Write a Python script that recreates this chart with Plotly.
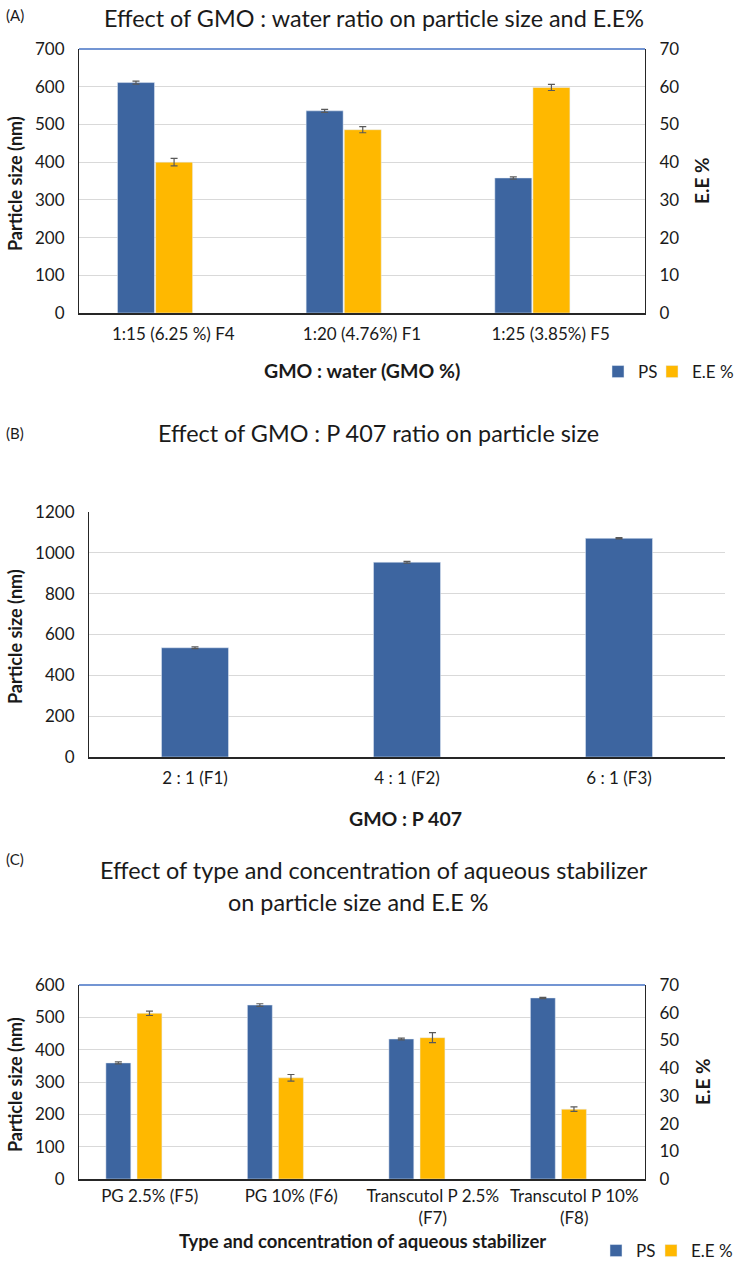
import plotly.graph_objects as go

# ---------------- data ----------------
cat_a = ["1:15 (6.25 %) F4", "1:20 (4.76%) F1", "1:25 (3.85%) F5"]
ps_a = [611, 536, 358]
ps_a_err = [4, 4, 3]
ee_a = [40.0, 48.6, 59.8]
ee_a_err = [1.0, 0.8, 0.8]

cat_b = ["2 : 1 (F1)", "4 : 1 (F2)", "6 : 1 (F3)"]
ps_b = [535, 954, 1071]
ps_b_err = [4, 4, 3]

cat_c = ["PG 2.5% (F5)", "PG 10% (F6)", "Transcutol P 2.5%<br>(F7)", "Transcutol P 10%<br>(F8)"]
ps_c = [359, 538, 433, 560]
ps_c_err = [3, 4, 3, 2]
ee_c = [59.8, 36.5, 51.0, 25.2]
ee_c_err = [0.8, 1.2, 1.8, 0.8]

ticks_a_left = [0, 100, 200, 300, 400, 500, 600, 700]
ticks_a_right = [0, 10, 20, 30, 40, 50, 60, 70]
ticks_b = [0, 200, 400, 600, 800, 1000, 1200]
ticks_c_left = [0, 100, 200, 300, 400, 500, 600]
ticks_c_right = [0, 10, 20, 30, 40, 50, 60, 70]

# ---------------- style ----------------
W, H = 742, 1263
BLUE = "#3D65A0"
ORANGE = "#FFB800"
ERR = "#595959"
GRID = "#D9D9D9"
FONT = "Lato"
TXT = "#1A1A1A"


def px_x(x):
    return x / W


def px_y(y):
    return 1 - y / H


def err(arr):
    return dict(type="data", array=arr, color=ERR, thickness=1.2, width=3.5)


fig = go.Figure()

# Panel A
fig.add_trace(go.Bar(x=cat_a, y=ps_a, name="PS", marker_color=BLUE, error_y=err(ps_a_err),
                     xaxis="x", yaxis="y", width=0.196, offset=-0.296, legend="legend"))
fig.add_trace(go.Bar(x=cat_a, y=ee_a, name="E.E %", marker_color=ORANGE, error_y=err(ee_a_err),
                     xaxis="x", yaxis="y2", width=0.196, offset=-0.094, legend="legend2"))
# Panel B
fig.add_trace(go.Bar(x=cat_b, y=ps_b, name="PS", marker_color=BLUE, error_y=err(ps_b_err),
                     xaxis="x2", yaxis="y3", width=0.316, showlegend=False))
# Panel C
fig.add_trace(go.Bar(x=cat_c, y=ps_c, name="PS", marker_color=BLUE, error_y=err(ps_c_err),
                     xaxis="x3", yaxis="y4", width=0.176, offset=-0.31, legend="legend3"))
fig.add_trace(go.Bar(x=cat_c, y=ee_c, name="E.E %", marker_color=ORANGE, error_y=err(ee_c_err),
                     xaxis="x3", yaxis="y5", width=0.176, offset=-0.09, legend="legend4"))

tickfont = dict(family=FONT, size=17, color=TXT)

xa = dict(showline=True, linecolor="#262626", linewidth=1.5, ticks="", tickfont=tickfont,
          showgrid=False, fixedrange=True, ticklabelstandoff=5)
ya = dict(showline=True, linecolor="#262626", linewidth=1.2, ticks="", tickfont=tickfont,
          showgrid=True, gridcolor=GRID, gridwidth=1, zeroline=False, ticklabelstandoff=10)

legfont = dict(family=FONT, size=17, color=TXT)


def leg(x, y):
    return dict(orientation="h", x=px_x(x), y=px_y(y), xanchor="left", yanchor="middle",
                font=legfont, bgcolor="rgba(0,0,0,0)", itemwidth=30)


fig.update_layout(
    width=W, height=H,
    margin=dict(l=0, r=0, t=0, b=0, autoexpand=False),
    paper_bgcolor="white", plot_bgcolor="white",
    font=dict(family=FONT, color=TXT),
    # Panel A
    xaxis=dict(xa, domain=[px_x(79), px_x(645)], anchor="y"),
    yaxis=dict(ya, domain=[px_y(313), px_y(49)], range=[0, 700], tickvals=ticks_a_left, anchor="x"),
    yaxis2=dict(ya, domain=[px_y(313), px_y(49)], range=[0, 70], tickvals=ticks_a_right,
                overlaying="y", side="right", anchor="x", showgrid=False),
    # Panel B
    xaxis2=dict(xa, domain=[px_x(89), px_x(725)], anchor="y3"),
    yaxis3=dict(ya, domain=[px_y(757), px_y(512)], range=[0, 1200], tickvals=ticks_b, anchor="x2"),
    # Panel C
    xaxis3=dict(xa, domain=[px_x(79), px_x(645)], anchor="y4", ticklabelstandoff=1),
    yaxis4=dict(ya, domain=[px_y(1179), px_y(985)], range=[0, 600], tickvals=ticks_c_left, anchor="x3"),
    yaxis5=dict(ya, domain=[px_y(1179), px_y(985)], range=[0, 70], tickvals=ticks_c_right,
                overlaying="y4", side="right", anchor="x3", showgrid=False),
    legend=leg(598, 372),
    legend2=leg(652, 372),
    legend3=leg(596, 1251),
    legend4=leg(651, 1251),
    showlegend=True,
)

# blue top borders for panels A and C
fig.add_shape(type="line", xref="x domain", yref="y domain", x0=0, x1=1, y0=1, y1=1,
              line=dict(color="#4472C4", width=1.5))
fig.add_shape(type="line", xref="x3 domain", yref="y4 domain", x0=0, x1=1, y0=1, y1=1,
              line=dict(color="#4472C4", width=1.5))


def ann(text, x, y, size=16, bold=False, angle=0, xanchor="center"):
    t = f"<b>{text}</b>" if bold else text
    fig.add_annotation(text=t, x=px_x(x), y=px_y(y), xref="paper", yref="paper",
                       showarrow=False, textangle=angle, xanchor=xanchor, yanchor="middle",
                       font=dict(family=FONT, size=size, color=TXT))


TS = 23.4
# Panel A texts
ann("(A)", 4, 15, size=15, xanchor="left")
ann("Effect of GMO : water ratio on particle size and E.E%", 374, 18, size=TS)
ann("Particle size (nm)", 15, 184, size=18, bold=True, angle=-90)
ann("E.E %", 702, 181, size=19, bold=True, angle=-90)
ann("GMO : water (GMO %)", 362, 371, size=19.5, bold=True)

# Panel B texts
ann("(B)", 4, 433, size=15, xanchor="left")
ann("Effect of GMO : P 407 ratio on particle size", 378, 433, size=TS)
ann("Particle size (nm)", 15, 637, size=18, bold=True, angle=-90)
ann("GMO : P 407", 405, 818, size=19.5, bold=True)

# Panel C texts
ann("(C)", 4, 859, size=15, xanchor="left")
ann("Effect of type and concentration of aqueous stabilizer", 374, 870, size=TS)
ann("on particle size and E.E %", 358, 902, size=TS)
ann("Particle size (nm)", 15, 1085, size=18, bold=True, angle=-90)
ann("E.E %", 702, 1082, size=19, bold=True, angle=-90)
ann("Type and concentration of aqueous stabilizer", 362, 1241, size=18.5, bold=True)

fig.write_html("out.html", post_script="document.body.style.margin='0';",
               config={"displayModeBar": False})
